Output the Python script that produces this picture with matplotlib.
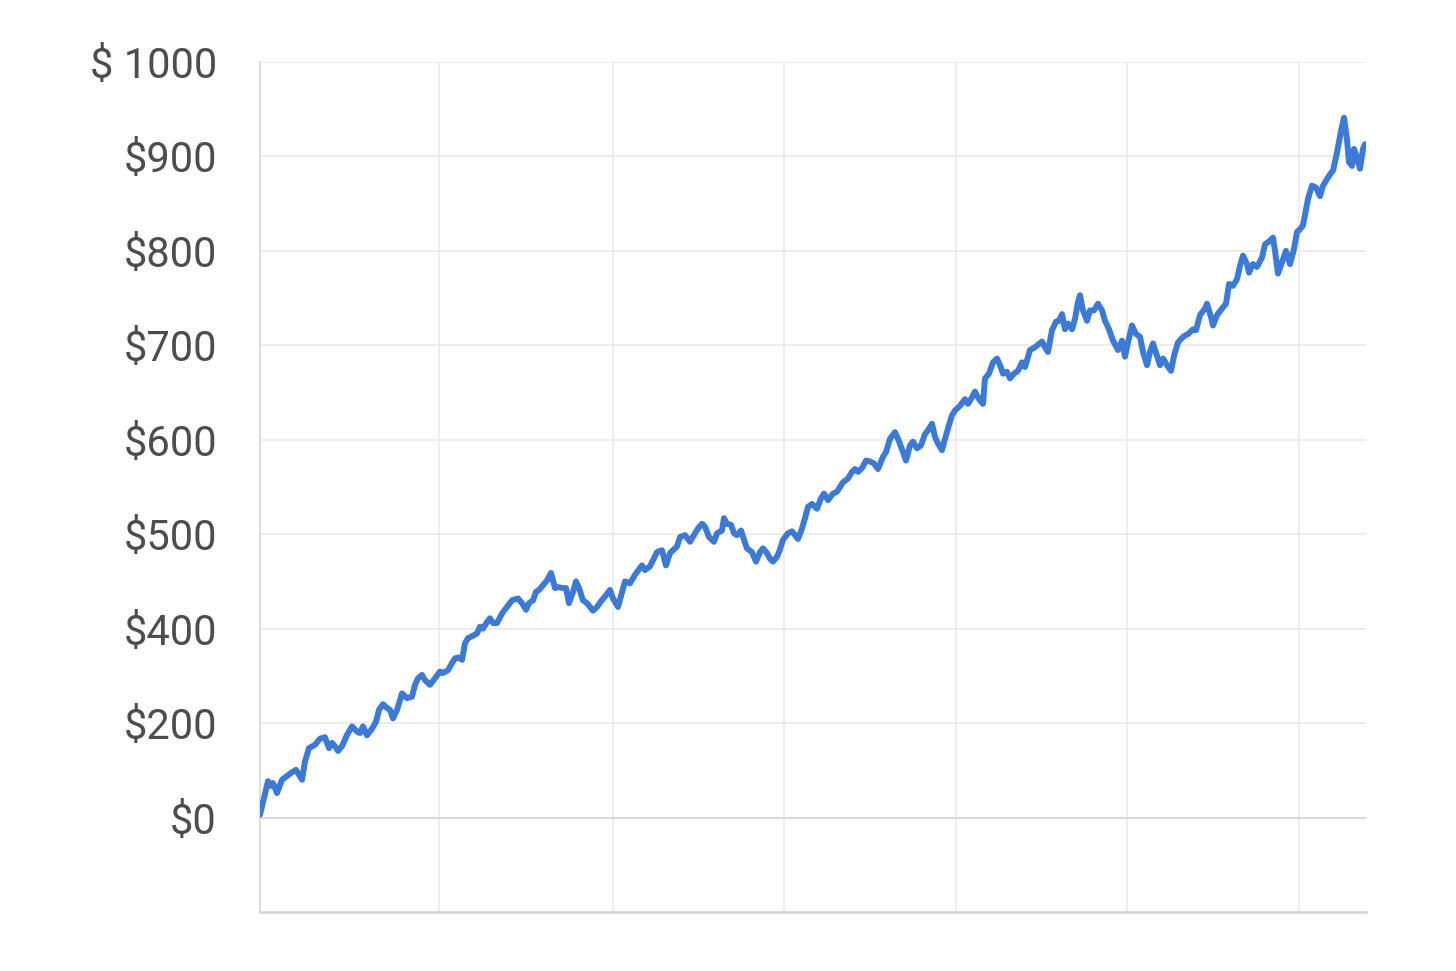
import matplotlib
matplotlib.use("Agg")
import matplotlib.pyplot as plt
import numpy as np

# price path (x in trading days, y in dollars)
days = [0, 8, 11, 13, 17, 22, 27, 32, 36, 38, 42, 45, 49, 55, 60, 65, 69, 72, 75, 78,
        82, 87, 92, 97, 100, 103, 107, 112, 116, 119, 123, 127, 130, 133, 137, 142, 147, 152, 155, 158,
        162, 165, 170, 175, 180, 183, 188, 192, 195, 198, 202, 205, 208, 213, 217, 220, 223, 227, 230, 233,
        237, 242, 247, 252, 258, 262, 266, 269, 273, 276, 279, 283, 287, 291, 295, 298, 303, 306, 309, 313,
        316, 319, 323, 327, 333, 337, 341, 345, 350, 353, 358, 365, 370, 375, 382, 385, 390, 397, 402, 406,
        410, 417, 420, 425, 430, 435, 438, 442, 445, 449, 454, 457, 462, 464, 467, 471, 474, 477, 481, 484,
        487, 492, 496, 500, 503, 507, 510, 513, 517, 520, 523, 528, 532, 535, 538, 542, 545, 548, 552, 557,
        561, 564, 568, 573, 577, 580, 583, 588, 592, 595, 598, 602, 606, 610, 614, 618, 623, 626, 630, 635,
        638, 643, 646, 650, 653, 657, 661, 665, 668, 672, 675, 678, 682, 685, 688, 692, 695, 700, 705, 708,
        712, 715, 719, 723, 725, 729, 733, 737, 740, 743, 747, 750, 754, 758, 762, 765, 770, 775, 782, 785,
        788, 792, 796, 799, 802, 805, 808, 812, 815, 818, 820, 823, 827, 830, 834, 838, 842, 845, 849, 853,
        858, 862, 865, 868, 872, 876, 880, 883, 887, 890, 893, 897, 900, 903, 907, 911, 914, 918, 923, 928,
        933, 936, 940, 945, 947, 951, 953, 957, 962, 966, 969, 973, 977, 980, 983, 987, 989, 993, 997, 1002,
        1005, 1008, 1013, 1015, 1018, 1023, 1026, 1030, 1034, 1037, 1040, 1043, 1048, 1052, 1056, 1060, 1063, 1067, 1070, 1073,
        1077, 1081, 1084, 1087, 1089, 1092, 1094, 1097, 1100, 1103, 1105]

price = [6, 77, 67, 73, 52, 80, 88, 96, 101, 94, 80, 119, 147, 154, 167, 170, 147, 158, 151, 141,
         151, 175, 193, 182, 179, 193, 174, 188, 203, 228, 240, 232, 228, 210, 228, 263, 253, 256, 281, 295,
         302, 291, 281, 295, 309, 306, 312, 327, 337, 339, 334, 369, 380, 385, 390, 402, 400, 407, 411, 406,
         406, 416, 423, 430, 432, 427, 420, 427, 430, 439, 441, 446, 451, 459, 443, 444, 443, 443, 427, 439,
         450, 443, 430, 427, 419, 423, 429, 434, 441, 432, 423, 450, 448, 457, 467, 462, 466, 481, 483, 467,
         480, 487, 497, 499, 492, 501, 506, 511, 508, 497, 492, 501, 504, 517, 511, 510, 501, 499, 504, 494,
         485, 481, 471, 481, 485, 480, 474, 471, 476, 484, 494, 501, 503, 499, 495, 506, 517, 529, 532, 527,
         538, 543, 536, 543, 545, 550, 555, 559, 566, 569, 566, 570, 578, 577, 575, 569, 582, 587, 601, 608,
         601, 587, 578, 594, 598, 591, 594, 606, 610, 617, 603, 596, 589, 601, 612, 626, 631, 636, 643, 638,
         645, 651, 643, 638, 665, 670, 682, 686, 679, 670, 672, 665, 670, 673, 682, 677, 695, 698, 704, 698,
         693, 716, 725, 726, 733, 717, 723, 717, 728, 746, 753, 737, 726, 737, 737, 744, 737, 726, 717, 705,
         695, 705, 688, 703, 721, 712, 709, 693, 679, 693, 702, 689, 679, 686, 679, 673, 689, 703, 709, 712,
         717, 716, 732, 739, 744, 730, 721, 732, 739, 744, 765, 763, 770, 784, 795, 786, 777, 786, 783, 793,
         807, 809, 814, 800, 776, 791, 800, 786, 802, 820, 823, 827, 855, 869, 867, 858, 869, 876, 881, 885,
         904, 927, 941, 918, 894, 890, 908, 899, 887, 908, 913]

tick_values = [0, 200, 400, 500, 600, 700, 800, 900, 1000]
tick_labels = [r'\$0', r'\$200', r'\$400', r'\$500', r'\$600', r'\$700', r'\$800', r'\$900', r'\$ 1000']
grid_days = [179, 353, 524, 696, 867, 1039]


# the axis is compressed below $400: each gridline there is worth $200
def forward(v):
    v = np.asarray(v, dtype=float)
    return np.where(v <= 400, v / 2.0, v - 200.0)


def inverse(p):
    p = np.asarray(p, dtype=float)
    return np.where(p <= 200, p * 2.0, p + 200.0)


plt.rcParams['font.family'] = ['Roboto', 'DejaVu Sans']

fig = plt.figure(figsize=(14.56, 9.71), dpi=100)
ax = fig.add_axes([260 / 1456, 1 - 912 / 971, 1106 / 1456, 850 / 971])

ax.set_yscale('function', functions=(forward, inverse))
ax.set_xlim(0, 1106)
ax.set_ylim(-200, 1000)

ax.set_yticks(tick_values)
ax.set_yticklabels(tick_labels)
ax.set_xticks(grid_days)
ax.set_xticklabels([])
ax.tick_params(axis='both', length=0)
ax.tick_params(axis='y', pad=31, labelsize=30, labelcolor='#4d4d4d')

ax.grid(True, color='#e8e8e8', linewidth=1.1)
ax.axhline(0, color='#d9d9d9', linewidth=1.4, zorder=1)
ax.set_axisbelow(True)

for side in ['top', 'right']:
    ax.spines[side].set_visible(False)
ax.spines['left'].set_color('#dcdcdc')
ax.spines['left'].set_linewidth(1.4)
ax.spines['bottom'].set_color('#d2d2d2')
ax.spines['bottom'].set_linewidth(1.8)

ax.plot(days, price, color='#3b7ad6', linewidth=4.3, solid_joinstyle='round',
        solid_capstyle='round', zorder=3)

fig.savefig('out.png', dpi=100)
